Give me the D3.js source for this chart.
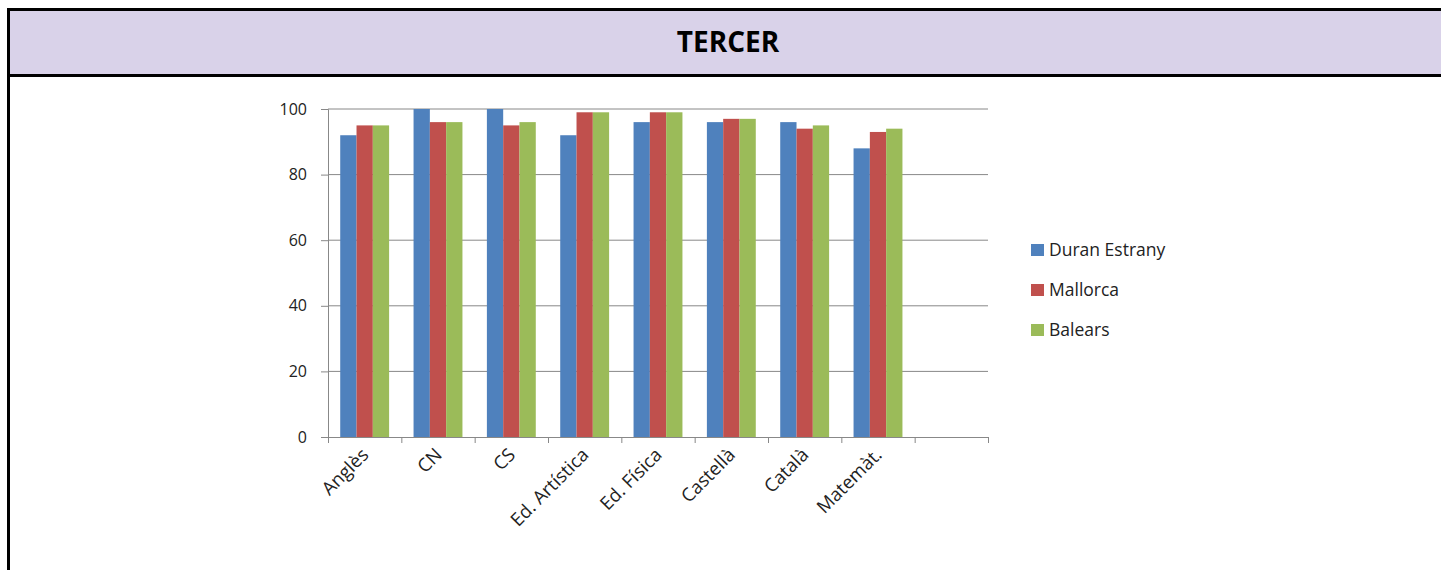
<!DOCTYPE html>
<html>
<head>
  <meta charset="utf-8">
  <script src="https://cdnjs.cloudflare.com/ajax/libs/d3/7.8.5/d3.min.js"></script>
  <title>Tercer</title>
  <style>
    body { margin: 0; background: #fff; }
    svg { display: block; }
    .axis text { font-family: "Open Sans", sans-serif; fill: #222; }
    .legend text { font-family: "Open Sans", sans-serif; fill: #222; }
  </style>
</head>
<body>
<script>
// chart values
const categories = ["Anglès", "CN", "CS", "Ed. Artística", "Ed. Física", "Castellà", "Català", "Matemàt."];
const seriesNames = ["Duran Estrany", "Mallorca", "Balears"];
const duranEstrany = [92, 100, 100, 92, 96, 96, 96, 88];
const mallorca = [95, 96, 95, 99, 99, 97, 94, 93];
const balears = [95, 96, 96, 99, 99, 97, 95, 94];
const yTicks = [0, 20, 40, 60, 80, 100];
const colors = ["#4f81bd", "#c0504d", "#9bbb59"];

const W = 1441, H = 570;
const svg = d3.select("body").append("svg")
    .attr("width", W)
    .attr("height", H);

// header band with the thick frame
svg.append("rect").attr("x", 10).attr("y", 11).attr("width", W - 10).attr("height", 63)
    .attr("fill", "#d9d2e9");
svg.append("rect").attr("x", 7).attr("y", 8).attr("width", W - 7).attr("height", 3).attr("fill", "#000");
svg.append("rect").attr("x", 7).attr("y", 74).attr("width", W - 7).attr("height", 3).attr("fill", "#000");
svg.append("rect").attr("x", 7).attr("y", 8).attr("width", 3).attr("height", H - 8).attr("fill", "#000");
svg.append("text")
    .attr("x", 728).attr("y", 52)
    .attr("text-anchor", "middle")
    .style("font-family", "'Open Sans', sans-serif")
    .style("font-weight", "bold")
    .style("font-size", "28px")
    .text("TERCER");

// plot area
const plot = {left: 328, right: 988, top: 109, bottom: 437};
const slots = categories.concat([""]);   // one empty slot at the end, like the original

const x = d3.scaleBand().domain(d3.range(slots.length)).range([plot.left, plot.right]);
const xs = d3.scaleBand().domain(d3.range(seriesNames.length)).range([0, x.bandwidth()])
    .paddingInner(0).paddingOuter(0.75);
const y = d3.scaleLinear().domain([0, 100]).range([plot.bottom, plot.top]);

// gridlines
svg.append("g").selectAll("line")
    .data(yTicks.filter(d => d > 0))
    .join("line")
    .attr("x1", plot.left).attr("x2", plot.right)
    .attr("y1", d => y(d)).attr("y2", d => y(d))
    .attr("stroke", "#888").attr("stroke-width", 1);

// bars
const series = [duranEstrany, mallorca, balears];
series.forEach(function(vals, s) {
  svg.append("g").selectAll("rect")
      .data(vals)
      .join("rect")
      .attr("x", (d, i) => x(i) + xs(s))
      .attr("width", xs.bandwidth())
      .attr("y", d => y(d))
      .attr("height", d => y(0) - y(d))
      .attr("fill", colors[s]);
});

// y axis
const yAxis = svg.append("g").attr("class", "axis")
    .attr("transform", "translate(" + plot.left + ",0)")
    .call(d3.axisLeft(y).tickValues(yTicks).tickSize(7).tickPadding(14));
yAxis.selectAll("line, path").attr("stroke", "#888");
yAxis.selectAll("text").style("font-size", "16px");

// x axis: ticks at the band boundaries
const xb = d3.scaleLinear().domain([0, slots.length]).range([plot.left, plot.right]);
const xAxis = svg.append("g").attr("class", "axis")
    .attr("transform", "translate(0," + plot.bottom + ")")
    .call(d3.axisBottom(xb).tickValues(d3.range(slots.length + 1)).tickSize(6).tickFormat(""));
xAxis.selectAll("line, path").attr("stroke", "#888");

// rotated category labels
svg.append("g").attr("class", "axis")
    .selectAll("text")
    .data(categories)
    .join("text")
    .attr("transform", (d, i) => "translate(" + (x(i) + x.bandwidth() / 2 + 5) + "," + (plot.bottom + 19) + ") rotate(-45)")
    .attr("text-anchor", "end")
    .style("font-size", "18.5px")
    .text(d => d);

// legend
const legend = svg.append("g").attr("class", "legend")
    .selectAll("g")
    .data(seriesNames)
    .join("g")
    .attr("transform", (d, i) => "translate(1031," + (250 + i * 40) + ")");
legend.append("rect")
    .attr("x", 0).attr("y", -6).attr("width", 13).attr("height", 12)
    .attr("fill", (d, i) => colors[i]);
legend.append("text")
    .attr("x", 18).attr("y", 0).attr("dy", "0.35em")
    .style("font-size", "17.5px")
    .text(d => d);
</script>
</body>
</html>
